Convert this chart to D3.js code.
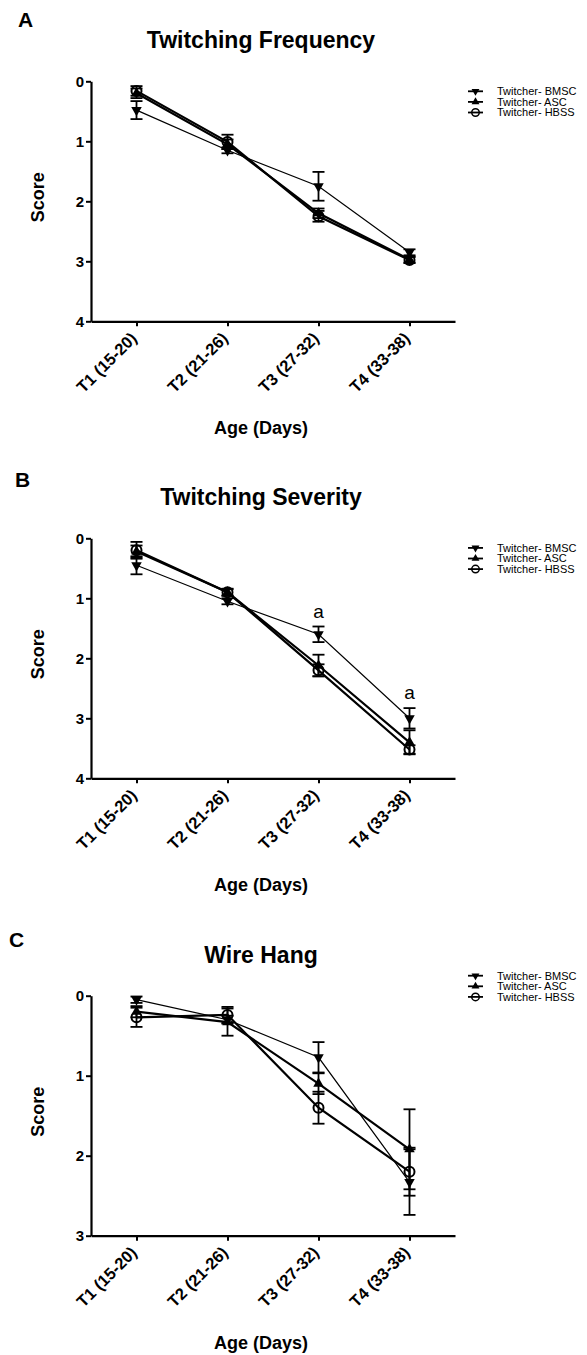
<!DOCTYPE html>
<html>
<head>
<meta charset="utf-8">
<script src="https://cdn.jsdelivr.net/npm/d3@7"></script>
<style>
  body { margin: 0; background: #fff; }
  text { font-family: "Liberation Sans", Arial, sans-serif; fill: #000; }
</style>
</head>
<body>
<svg width="587" height="1355"></svg>
<script>
  const timepoints = ["T1 (15-20)", "T2 (21-26)", "T3 (27-32)", "T4 (33-38)"];
  const seriesNames = ["Twitcher- BMSC", "Twitcher- ASC", "Twitcher- HBSS"];

  // A - twitching frequency
  const freqBMSC = [0.48, 1.15, 1.75, 2.85];
  const freqBMSCErr = [0.15, 0.05, 0.24, 0.05];
  const freqASC = [0.2, 1.05, 2.2, 2.97];
  const freqASCErr = [0.08, 0.08, 0.08, 0.05];
  const freqHBSS = [0.16, 1.01, 2.25, 2.98];
  const freqHBSSErr = [0.08, 0.12, 0.09, 0.05];
  const freqTicks = [0, 1, 2, 3, 4];

  // B - twitching severity
  const sevBMSC = [0.45, 1.05, 1.6, 3.0];
  const sevBMSCErr = [0.15, 0.05, 0.13, 0.17];
  const sevASC = [0.22, 0.9, 2.12, 3.4];
  const sevASCErr = [0.1, 0.06, 0.18, 0.2];
  const sevHBSS = [0.2, 0.9, 2.2, 3.52];
  const sevHBSSErr = [0.14, 0.05, 0.1, 0.07];
  const sevTicks = [0, 1, 2, 3, 4];
  const sevSignif = ["", "", "a", "a"];

  // C - wire hang
  const wireBMSC = [0.05, 0.3, 0.77, 2.33];
  const wireBMSCErr = [0.04, 0.05, 0.19, 0.41];
  const wireASC = [0.2, 0.33, 1.1, 1.92];
  const wireASCErr = [0.07, 0.17, 0.13, 0.5];
  const wireHBSS = [0.27, 0.24, 1.4, 2.2];
  const wireHBSSErr = [0.12, 0.1, 0.2, 0.3];
  const wireTicks = [0, 1, 2, 3];

  const svg = d3.select("svg");
  const left = 91, right = 455, plotH = 240;

  const panels = [
    {letter: "A", title: "Twitching Frequency", top: 81.3, letterX: 18, letterDy: 54.6, legendDy: 10,
     ticks: freqTicks, means: [freqBMSC, freqASC, freqHBSS], errs: [freqBMSCErr, freqASCErr, freqHBSSErr]},
    {letter: "B", title: "Twitching Severity", top: 538.3, letterX: 15, letterDy: 51.3, legendDy: 9.6,
     ticks: sevTicks, means: [sevBMSC, sevASC, sevHBSS], errs: [sevBMSCErr, sevASCErr, sevHBSSErr], signif: sevSignif},
    {letter: "C", title: "Wire Hang", top: 995.7, letterX: 9, letterDy: 49, legendDy: -20,
     ticks: wireTicks, means: [wireBMSC, wireASC, wireHBSS], errs: [wireBMSCErr, wireASCErr, wireHBSSErr]}
  ];

  // marker + line style per series
  const styles = [
    {shape: "down", lw: 1.2},
    {shape: "up", lw: 2.2},
    {shape: "circle", lw: 2.2}
  ];

  function marker(sel, shape, k) {
    if (shape === "circle") {
      sel.append("circle").attr("r", 5 * k).attr("fill", "none")
        .attr("stroke", "#000").attr("stroke-width", 2 * k);
    } else {
      sel.append("path")
        .attr("d", d3.symbol(d3.symbolTriangle, 48 * k * k)())
        .attr("transform", shape === "down" ? "rotate(180)" : null)
        .attr("fill", "#000");
    }
  }

  panels.forEach(p => {
    const g = svg.append("g");
    const x = d3.scalePoint().domain(timepoints).range([left, right]).padding(0.5);
    const y = d3.scaleLinear().domain([0, d3.max(p.ticks)]).range([p.top, p.top + plotH]);

    g.append("text").attr("x", p.letterX).attr("y", p.top - p.letterDy)
      .style("font-size", "21px").style("font-weight", "bold").text(p.letter);

    g.append("text").attr("x", 261).attr("y", p.top - 33)
      .attr("text-anchor", "middle")
      .style("font-size", "23px").style("font-weight", "bold").text(p.title);

    const yAxis = g.append("g")
      .attr("transform", `translate(${left},0)`)
      .call(d3.axisLeft(y).tickValues(p.ticks).tickSize(5).tickSizeOuter(0).tickPadding(2).tickFormat(d3.format("d")));

    const xAxis = g.append("g")
      .attr("transform", `translate(0,${p.top + plotH})`)
      .call(d3.axisBottom(x).tickSize(5).tickSizeOuter(0));

    [yAxis, xAxis].forEach(a => {
      a.select(".domain").attr("stroke", "#000").attr("stroke-width", 2.2);
      a.selectAll(".tick line").attr("stroke", "#000").attr("stroke-width", 2);
      a.selectAll("text").style("font-size", "15px").style("font-weight", "bold")
        .style("font-family", "'Liberation Sans', Arial, sans-serif").attr("fill", "#000");
    });

    xAxis.selectAll(".tick text")
      .style("font-size", "16.5px")
      .attr("x", 0).attr("y", 0).attr("dy", 0)
      .attr("transform", "translate(1,18) rotate(-45)")
      .style("text-anchor", "end");

    g.append("text")
      .attr("transform", `translate(44,${p.top + 116}) rotate(-90)`)
      .attr("text-anchor", "middle")
      .style("font-size", "18px").style("font-weight", "bold").text("Score");

    g.append("text").attr("x", 261).attr("y", p.top + plotH + 113)
      .attr("text-anchor", "middle")
      .style("font-size", "18px").style("font-weight", "bold").text("Age (Days)");

    const line = d3.line().x((d, i) => x(timepoints[i])).y(d => y(d));

    p.means.forEach((m, s) => {
      g.append("path").datum(m).attr("d", line)
        .attr("fill", "none").attr("stroke", "#000").attr("stroke-width", styles[s].lw);
    });

    p.means.forEach((m, s) => {
      const e = p.errs[s];
      m.forEach((v, i) => {
        const cx = x(timepoints[i]);
        const eb = g.append("g").attr("stroke", "#000").attr("stroke-width", 1.8);
        eb.append("line").attr("x1", cx).attr("x2", cx).attr("y1", y(v - e[i])).attr("y2", y(v + e[i]));
        [v - e[i], v + e[i]].forEach(c => {
          eb.append("line").attr("x1", cx - 6).attr("x2", cx + 6).attr("y1", y(c)).attr("y2", y(c));
        });
      });
    });

    p.means.forEach((m, s) => {
      m.forEach((v, i) => {
        marker(g.append("g").attr("transform", `translate(${x(timepoints[i])},${y(v)})`), styles[s].shape, 1);
      });
    });

    if (p.signif) {
      p.signif.forEach((t, i) => {
        if (!t) return;
        g.append("text").attr("x", x(timepoints[i])).attr("y", y(p.means[0][i] - p.errs[0][i]) - 9)
          .attr("text-anchor", "middle").style("font-size", "19px").text(t);
      });
    }

    // legend
    const lg = g.append("g").attr("transform", `translate(0,${p.top + p.legendDy})`);
    seriesNames.forEach((name, s) => {
      const row = lg.append("g").attr("transform", `translate(0,${s * 10.6})`);
      row.append("line").attr("x1", 468).attr("x2", 483).attr("y1", 0).attr("y2", 0)
        .attr("stroke", "#000").attr("stroke-width", 1.8);
      marker(row.append("g").attr("transform", "translate(475.5,0)"), styles[s].shape, 0.75);
      row.append("text").attr("x", 497).attr("dy", "0.35em")
        .style("font-size", "11px").attr("fill", "#222").text(name);
    });
  });
</script>
</body>
</html>
